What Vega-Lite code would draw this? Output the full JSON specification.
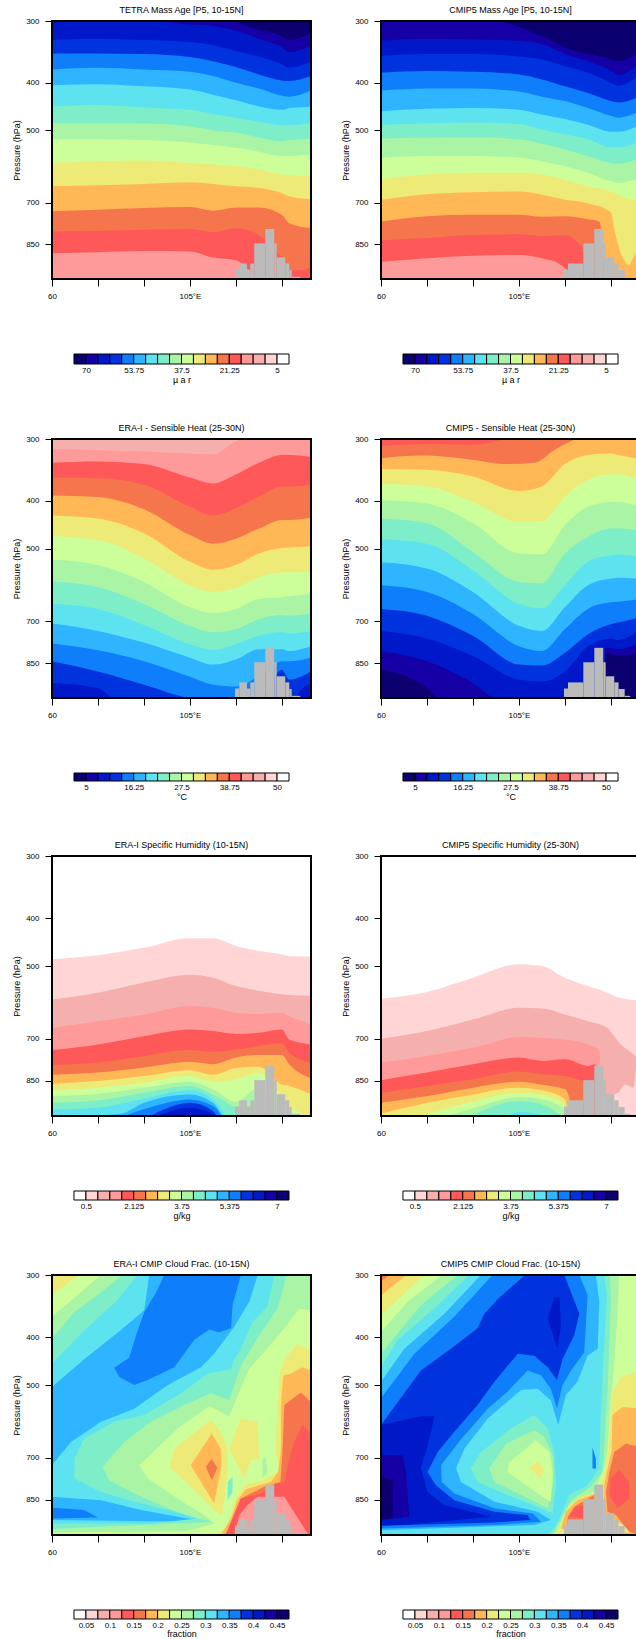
{"$schema":"https://vega.github.io/schema/vega-lite/v6.json","padding":{"left":12,"top":5,"right":0,"bottom":0},"background":"white","config":{"view":{"stroke":null},"font":"Liberation Sans","axis":{"labelFontSize":8,"titleFontSize":9,"titleFontWeight":"normal","grid":false,"domain":false,"tickColor":"black","tickSize":7,"tickWidth":1,"labelColor":"black","titleColor":"black","labelPadding":2,"labelOverlap":false,"labelFlush":false},"title":{"fontSize":9,"fontWeight":"normal","offset":2.5,"color":"black"}},"datasets":{
"tL":[{"x":119.7,"x2":121.1,"p":957},{"x":121.1,"x2":123.6,"p":930},{"x":123.6,"x2":124.7,"p":957},{"x":124.7,"x2":126,"p":930},{"x":126,"x2":129.6,"p":847},{"x":129.6,"x2":132.5,"p":792},{"x":132.5,"x2":133.3,"p":847},{"x":133.3,"x2":136.1,"p":904},{"x":136.1,"x2":137.4,"p":930},{"x":137.4,"x2":138.2,"p":959},{"x":138.2,"x2":141,"p":990}],
"tR":[{"x":119.7,"x2":121,"p":957},{"x":121,"x2":126,"p":930},{"x":126,"x2":129.6,"p":847},{"x":129.6,"x2":132.5,"p":792},{"x":132.5,"x2":133.3,"p":847},{"x":133.3,"x2":136.1,"p":904},{"x":136.1,"x2":137.5,"p":930},{"x":137.5,"x2":139.5,"p":959},{"x":139.5,"x2":141.3,"p":990}],
"cA":[{"i":0,"j":1,"b":0},{"i":1,"j":2,"b":1},{"i":2,"j":3,"b":2},{"i":3,"j":4,"b":3},{"i":4,"j":5,"b":4},{"i":5,"j":6,"b":5},{"i":6,"j":7,"b":6},{"i":7,"j":8,"b":7},{"i":8,"j":9,"b":8},{"i":9,"j":10,"b":9},{"i":10,"j":11,"b":10},{"i":11,"j":12,"b":11},{"i":12,"j":13,"b":12},{"i":13,"j":14,"b":13},{"i":14,"j":15,"b":14},{"i":15,"j":16,"b":15},{"i":16,"j":17,"b":16},{"i":17,"j":18,"b":17}],
"cB":[{"i":0,"j":1,"b":17},{"i":1,"j":2,"b":16},{"i":2,"j":3,"b":15},{"i":3,"j":4,"b":14},{"i":4,"j":5,"b":13},{"i":5,"j":6,"b":12},{"i":6,"j":7,"b":11},{"i":7,"j":8,"b":10},{"i":8,"j":9,"b":9},{"i":9,"j":10,"b":8},{"i":10,"j":11,"b":7},{"i":11,"j":12,"b":6},{"i":12,"j":13,"b":5},{"i":13,"j":14,"b":4},{"i":14,"j":15,"b":3},{"i":15,"j":16,"b":2},{"i":16,"j":17,"b":1},{"i":17,"j":18,"b":0}],
"p1":[{"b":0,"x":60,"p":300},{"b":0,"x":144.5,"p":300},
{"b":1,"x":60,"p":290},{"b":1,"x":105,"p":290},{"b":1,"x":118.4,"p":300},{"b":1,"x":120,"p":302},{"b":1,"x":127.5,"p":312},{"b":1,"x":135,"p":322},{"b":1,"x":137.4,"p":328},{"b":1,"x":144.5,"p":317},
{"b":2,"x":60,"p":299},{"b":2,"x":90,"p":299},{"b":2,"x":105,"p":305},{"b":2,"x":112.5,"p":307},{"b":2,"x":120,"p":314},{"b":2,"x":127.5,"p":326},{"b":2,"x":135,"p":339},{"b":2,"x":137.4,"p":347},{"b":2,"x":144.5,"p":337},
{"b":3,"x":60,"p":328},{"b":3,"x":75,"p":326},{"b":3,"x":90,"p":328},{"b":3,"x":105,"p":331},{"b":3,"x":112.5,"p":336},{"b":3,"x":120,"p":345},{"b":3,"x":127.5,"p":354},{"b":3,"x":135,"p":367},{"b":3,"x":137.4,"p":373},{"b":3,"x":144.5,"p":362},
{"b":4,"x":60,"p":349},{"b":4,"x":75,"p":349},{"b":4,"x":90,"p":350},{"b":4,"x":105,"p":355},{"b":4,"x":112.5,"p":362},{"b":4,"x":120,"p":372},{"b":4,"x":127.5,"p":385},{"b":4,"x":135,"p":396},{"b":4,"x":137.4,"p":397},{"b":4,"x":144.5,"p":388},
{"b":5,"x":60,"p":376},{"b":5,"x":75,"p":373},{"b":5,"x":90,"p":376},{"b":5,"x":105,"p":380},{"b":5,"x":112.5,"p":388},{"b":5,"x":120,"p":400},{"b":5,"x":127.5,"p":411},{"b":5,"x":135,"p":425},{"b":5,"x":137.4,"p":427},{"b":5,"x":144.5,"p":415},
{"b":6,"x":60,"p":405},{"b":6,"x":75,"p":403},{"b":6,"x":90,"p":407},{"b":6,"x":105,"p":413},{"b":6,"x":112.5,"p":423},{"b":6,"x":120,"p":434},{"b":6,"x":127.5,"p":447},{"b":6,"x":135,"p":454},{"b":6,"x":137.4,"p":450},{"b":6,"x":144.5,"p":448},
{"b":7,"x":60,"p":447},{"b":7,"x":75,"p":444},{"b":7,"x":90,"p":449},{"b":7,"x":105,"p":454},{"b":7,"x":112.5,"p":463},{"b":7,"x":120,"p":471},{"b":7,"x":127.5,"p":480},{"b":7,"x":135,"p":488},{"b":7,"x":137.4,"p":488},{"b":7,"x":144.5,"p":483},
{"b":8,"x":60,"p":483},{"b":8,"x":75,"p":483},{"b":8,"x":90,"p":484},{"b":8,"x":105,"p":490},{"b":8,"x":112.5,"p":500},{"b":8,"x":120,"p":505},{"b":8,"x":127.5,"p":517},{"b":8,"x":135,"p":525},{"b":8,"x":137.4,"p":523},{"b":8,"x":144.5,"p":520},
{"b":9,"x":60,"p":521},{"b":9,"x":75,"p":521},{"b":9,"x":90,"p":523},{"b":9,"x":105,"p":529},{"b":9,"x":112.5,"p":535},{"b":9,"x":120,"p":542},{"b":9,"x":127.5,"p":552},{"b":9,"x":135,"p":563},{"b":9,"x":137.4,"p":563},{"b":9,"x":144.5,"p":559},
{"b":10,"x":60,"p":582},{"b":10,"x":75,"p":577},{"b":10,"x":90,"p":575},{"b":10,"x":105,"p":582},{"b":10,"x":112.5,"p":586},{"b":10,"x":120,"p":591},{"b":10,"x":127.5,"p":600},{"b":10,"x":135,"p":614},{"b":10,"x":137.4,"p":616},{"b":10,"x":144.5,"p":619},
{"b":11,"x":60,"p":649},{"b":11,"x":75,"p":646},{"b":11,"x":90,"p":642},{"b":11,"x":105,"p":637},{"b":11,"x":112.5,"p":642},{"b":11,"x":120,"p":649},{"b":11,"x":127.5,"p":654},{"b":11,"x":135,"p":670},{"b":11,"x":137.4,"p":680},{"b":11,"x":144.5,"p":689},
{"b":12,"x":60,"p":729},{"b":12,"x":75,"p":724},{"b":12,"x":90,"p":718},{"b":12,"x":105,"p":715},{"b":12,"x":112.5,"p":727},{"b":12,"x":120,"p":716},{"b":12,"x":127.5,"p":716},{"b":12,"x":135,"p":741},{"b":12,"x":137.4,"p":771},{"b":12,"x":144.5,"p":789},
{"b":13,"x":60,"p":801},{"b":13,"x":75,"p":799},{"b":13,"x":90,"p":795},{"b":13,"x":105,"p":792},{"b":13,"x":112.5,"p":804},{"b":13,"x":120,"p":789},{"b":13,"x":127.5,"p":814},{"b":13,"x":135,"p":908},{"b":13,"x":137.4,"p":959},{"b":13,"x":141,"p":959},{"b":13,"x":144.5,"p":945},
{"b":14,"x":60,"p":887},{"b":14,"x":75,"p":883},{"b":14,"x":90,"p":878},{"b":14,"x":105,"p":880},{"b":14,"x":112.5,"p":905},{"b":14,"x":120,"p":916},{"b":14,"x":123.6,"p":952},{"b":14,"x":127.5,"p":1010}],
"p2":[{"b":0,"x":60,"p":300},{"b":0,"x":144.5,"p":300},
{"b":1,"x":60,"p":292},{"b":1,"x":90,"p":296},{"b":1,"x":105,"p":308},{"b":1,"x":112.5,"p":322},{"b":1,"x":120,"p":339},{"b":1,"x":127.5,"p":350},{"b":1,"x":135,"p":358},{"b":1,"x":137.4,"p":362},{"b":1,"x":144.5,"p":345},
{"b":2,"x":60,"p":329},{"b":2,"x":75,"p":326},{"b":2,"x":90,"p":327},{"b":2,"x":105,"p":329},{"b":2,"x":112.5,"p":334},{"b":2,"x":120,"p":350},{"b":2,"x":127.5,"p":362},{"b":2,"x":135,"p":378},{"b":2,"x":137.4,"p":386},{"b":2,"x":144.5,"p":365},
{"b":3,"x":60,"p":353},{"b":3,"x":75,"p":350},{"b":3,"x":90,"p":350},{"b":3,"x":105,"p":354},{"b":3,"x":112.5,"p":359},{"b":3,"x":120,"p":370},{"b":3,"x":127.5,"p":382},{"b":3,"x":135,"p":400},{"b":3,"x":137.4,"p":406},{"b":3,"x":144.5,"p":385},
{"b":4,"x":60,"p":382},{"b":4,"x":75,"p":379},{"b":4,"x":90,"p":380},{"b":4,"x":105,"p":385},{"b":4,"x":112.5,"p":394},{"b":4,"x":120,"p":407},{"b":4,"x":127.5,"p":420},{"b":4,"x":135,"p":436},{"b":4,"x":137.4,"p":439},{"b":4,"x":144.5,"p":426},
{"b":5,"x":60,"p":415},{"b":5,"x":75,"p":411},{"b":5,"x":90,"p":411},{"b":5,"x":105,"p":417},{"b":5,"x":112.5,"p":427},{"b":5,"x":120,"p":436},{"b":5,"x":127.5,"p":450},{"b":5,"x":135,"p":467},{"b":5,"x":137.4,"p":471},{"b":5,"x":144.5,"p":457},
{"b":6,"x":60,"p":457},{"b":6,"x":75,"p":452},{"b":6,"x":90,"p":450},{"b":6,"x":105,"p":454},{"b":6,"x":112.5,"p":464},{"b":6,"x":120,"p":474},{"b":6,"x":127.5,"p":487},{"b":6,"x":135,"p":503},{"b":6,"x":137.4,"p":503},{"b":6,"x":144.5,"p":487},
{"b":7,"x":60,"p":487},{"b":7,"x":75,"p":484},{"b":7,"x":90,"p":482},{"b":7,"x":105,"p":485},{"b":7,"x":112.5,"p":498},{"b":7,"x":120,"p":509},{"b":7,"x":127.5,"p":521},{"b":7,"x":135,"p":541},{"b":7,"x":137.4,"p":541},{"b":7,"x":144.5,"p":525},
{"b":8,"x":60,"p":519},{"b":8,"x":75,"p":517},{"b":8,"x":90,"p":516},{"b":8,"x":105,"p":521},{"b":8,"x":112.5,"p":532},{"b":8,"x":120,"p":546},{"b":8,"x":127.5,"p":564},{"b":8,"x":135,"p":582},{"b":8,"x":137.4,"p":584},{"b":8,"x":144.5,"p":568},
{"b":9,"x":60,"p":568},{"b":9,"x":75,"p":563},{"b":9,"x":90,"p":563},{"b":9,"x":105,"p":568},{"b":9,"x":112.5,"p":577},{"b":9,"x":120,"p":591},{"b":9,"x":127.5,"p":609},{"b":9,"x":135,"p":634},{"b":9,"x":137.4,"p":639},{"b":9,"x":144.5,"p":624},
{"b":10,"x":60,"p":627},{"b":10,"x":75,"p":614},{"b":10,"x":90,"p":609},{"b":10,"x":105,"p":609},{"b":10,"x":112.5,"p":614},{"b":10,"x":120,"p":629},{"b":10,"x":127.5,"p":649},{"b":10,"x":135,"p":665},{"b":10,"x":137.4,"p":675},{"b":10,"x":144.5,"p":696},
{"b":11,"x":60,"p":691},{"b":11,"x":75,"p":673},{"b":11,"x":90,"p":667},{"b":11,"x":105,"p":665},{"b":11,"x":112.5,"p":675},{"b":11,"x":120,"p":691},{"b":11,"x":127.5,"p":702},{"b":11,"x":135,"p":732},{"b":11,"x":136.1,"p":789},{"b":11,"x":137.7,"p":867},{"b":11,"x":139.4,"p":916},{"b":11,"x":141,"p":937},{"b":11,"x":142.1,"p":909},{"b":11,"x":143.5,"p":881},{"b":11,"x":144.5,"p":867},
{"b":12,"x":60,"p":765},{"b":12,"x":75,"p":746},{"b":12,"x":90,"p":741},{"b":12,"x":105,"p":741},{"b":12,"x":112.5,"p":748},{"b":12,"x":120,"p":746},{"b":12,"x":127.5,"p":757},{"b":12,"x":131.2,"p":765},{"b":12,"x":133,"p":1010},
{"b":13,"x":60,"p":835},{"b":13,"x":75,"p":826},{"b":13,"x":90,"p":814},{"b":13,"x":105,"p":812},{"b":13,"x":112.5,"p":819},{"b":13,"x":120,"p":814},{"b":13,"x":124,"p":841},{"b":13,"x":126,"p":874},{"b":13,"x":127,"p":1010},
{"b":14,"x":60,"p":923},{"b":14,"x":75,"p":908},{"b":14,"x":90,"p":897},{"b":14,"x":105,"p":894},{"b":14,"x":112.5,"p":908},{"b":14,"x":118,"p":930},{"b":14,"x":124,"p":1010}],
"p3":[{"b":15,"x":60,"p":300},{"b":15,"x":144.5,"p":300},
{"b":14,"x":60,"p":314},{"b":14,"x":75,"p":316},{"b":14,"x":90,"p":318},{"b":14,"x":105,"p":321},{"b":14,"x":112.5,"p":322},{"b":14,"x":120,"p":303},{"b":14,"x":127.5,"p":294},{"b":14,"x":144.5,"p":294},
{"b":13,"x":60,"p":335},{"b":13,"x":75,"p":333},{"b":13,"x":90,"p":337},{"b":13,"x":105,"p":359},{"b":13,"x":112.5,"p":369},{"b":13,"x":120,"p":354},{"b":13,"x":127.5,"p":335},{"b":13,"x":135,"p":323},{"b":13,"x":137.4,"p":323},{"b":13,"x":144.5,"p":326},
{"b":12,"x":60,"p":359},{"b":12,"x":75,"p":360},{"b":12,"x":90,"p":371},{"b":12,"x":105,"p":411},{"b":12,"x":112.5,"p":428},{"b":12,"x":120,"p":414},{"b":12,"x":127.5,"p":392},{"b":12,"x":135,"p":374},{"b":12,"x":137.4,"p":374},{"b":12,"x":144.5,"p":371},
{"b":11,"x":60,"p":390},{"b":11,"x":75,"p":393},{"b":11,"x":90,"p":416},{"b":11,"x":105,"p":469},{"b":11,"x":112.5,"p":488},{"b":11,"x":120,"p":477},{"b":11,"x":127.5,"p":455},{"b":11,"x":135,"p":437},{"b":11,"x":137.4,"p":437},{"b":11,"x":144.5,"p":432},
{"b":10,"x":60,"p":428},{"b":10,"x":75,"p":434},{"b":10,"x":90,"p":465},{"b":10,"x":105,"p":531},{"b":10,"x":112.5,"p":551},{"b":10,"x":120,"p":539},{"b":10,"x":127.5,"p":511},{"b":10,"x":135,"p":498},{"b":10,"x":137.4,"p":497},{"b":10,"x":144.5,"p":494},
{"b":9,"x":60,"p":471},{"b":9,"x":75,"p":480},{"b":9,"x":90,"p":523},{"b":9,"x":105,"p":592},{"b":9,"x":112.5,"p":611},{"b":9,"x":120,"p":599},{"b":9,"x":127.5,"p":570},{"b":9,"x":135,"p":558},{"b":9,"x":137.4,"p":558},{"b":9,"x":144.5,"p":556},
{"b":8,"x":60,"p":525},{"b":8,"x":75,"p":539},{"b":8,"x":90,"p":583},{"b":8,"x":105,"p":656},{"b":8,"x":112.5,"p":674},{"b":8,"x":120,"p":661},{"b":8,"x":127.5,"p":631},{"b":8,"x":135,"p":626},{"b":8,"x":137.4,"p":623},{"b":8,"x":144.5,"p":616},
{"b":7,"x":60,"p":582},{"b":7,"x":75,"p":597},{"b":7,"x":90,"p":646},{"b":7,"x":105,"p":715},{"b":7,"x":112.5,"p":737},{"b":7,"x":120,"p":726},{"b":7,"x":127.5,"p":693},{"b":7,"x":135,"p":680},{"b":7,"x":137.4,"p":682},{"b":7,"x":144.5,"p":675},
{"b":6,"x":60,"p":645},{"b":6,"x":75,"p":661},{"b":6,"x":90,"p":712},{"b":6,"x":105,"p":779},{"b":6,"x":112.5,"p":800},{"b":6,"x":120,"p":779},{"b":6,"x":127.5,"p":749},{"b":6,"x":135,"p":737},{"b":6,"x":137.4,"p":741},{"b":6,"x":144.5,"p":733},
{"b":5,"x":60,"p":707},{"b":5,"x":75,"p":732},{"b":5,"x":90,"p":773},{"b":5,"x":105,"p":829},{"b":5,"x":112.5,"p":856},{"b":5,"x":120,"p":836},{"b":5,"x":127.5,"p":797},{"b":5,"x":135,"p":797},{"b":5,"x":137.4,"p":804},{"b":5,"x":144.5,"p":786},
{"b":4,"x":60,"p":776},{"b":4,"x":75,"p":801},{"b":4,"x":90,"p":843},{"b":4,"x":105,"p":906},{"b":4,"x":112.5,"p":940},{"b":4,"x":120,"p":948},{"b":4,"x":127.5,"p":903},{"b":4,"x":135,"p":843},{"b":4,"x":137.4,"p":843},{"b":4,"x":144.5,"p":829},
{"b":3,"x":60,"p":843},{"b":3,"x":75,"p":884},{"b":3,"x":90,"p":940},{"b":3,"x":105,"p":1000},{"b":3,"x":112.5,"p":1010},{"b":3,"x":127.5,"p":1010},{"b":3,"x":135,"p":877},{"b":3,"x":137.4,"p":918},{"b":3,"x":144.5,"p":884},
{"b":2,"x":60,"p":933},{"b":2,"x":75,"p":955},{"b":2,"x":80.9,"p":1005},{"b":2,"x":90,"p":1010},{"b":2,"x":135,"p":1010},{"b":2,"x":139,"p":1005},{"b":2,"x":141.2,"p":964},{"b":2,"x":144.5,"p":933}],
"p4":[{"b":13,"x":60,"p":300},{"b":13,"x":144.5,"p":300},
{"b":12,"x":60,"p":310},{"b":12,"x":75,"p":307},{"b":12,"x":90,"p":308},{"b":12,"x":100.2,"p":300},{"b":12,"x":105,"p":294},{"b":12,"x":144.5,"p":294},
{"b":11,"x":60,"p":328},{"b":11,"x":73,"p":324},{"b":11,"x":89.3,"p":330},{"b":11,"x":100.2,"p":337},{"b":11,"x":110,"p":335},{"b":11,"x":116.5,"p":316},{"b":11,"x":123,"p":301},{"b":11,"x":127.5,"p":294},{"b":11,"x":144.5,"p":294},
{"b":10,"x":60,"p":345},{"b":10,"x":75,"p":346},{"b":10,"x":90,"p":357},{"b":10,"x":105,"p":382},{"b":10,"x":112.5,"p":374},{"b":10,"x":120,"p":337},{"b":10,"x":127.5,"p":323},{"b":10,"x":135,"p":321},{"b":10,"x":137.4,"p":323},{"b":10,"x":144.5,"p":330},
{"b":9,"x":60,"p":370},{"b":9,"x":75,"p":374},{"b":9,"x":90,"p":402},{"b":9,"x":105,"p":441},{"b":9,"x":112.5,"p":439},{"b":9,"x":120,"p":392},{"b":9,"x":127.5,"p":363},{"b":9,"x":135,"p":354},{"b":9,"x":137.4,"p":354},{"b":9,"x":144.5,"p":363},
{"b":8,"x":60,"p":399},{"b":8,"x":75,"p":405},{"b":8,"x":90,"p":444},{"b":8,"x":105,"p":511},{"b":8,"x":112.5,"p":513},{"b":8,"x":120,"p":448},{"b":8,"x":127.5,"p":411},{"b":8,"x":135,"p":402},{"b":8,"x":137.4,"p":402},{"b":8,"x":144.5,"p":411},
{"b":7,"x":60,"p":434},{"b":7,"x":75,"p":444},{"b":7,"x":90,"p":507},{"b":7,"x":105,"p":583},{"b":7,"x":112.5,"p":587},{"b":7,"x":120,"p":511},{"b":7,"x":127.5,"p":473},{"b":7,"x":135,"p":455},{"b":7,"x":137.4,"p":455},{"b":7,"x":144.5,"p":458},
{"b":6,"x":60,"p":478},{"b":6,"x":75,"p":488},{"b":6,"x":90,"p":552},{"b":6,"x":105,"p":646},{"b":6,"x":112.5,"p":659},{"b":6,"x":120,"p":592},{"b":6,"x":127.5,"p":531},{"b":6,"x":135,"p":515},{"b":6,"x":137.4,"p":513},{"b":6,"x":144.5,"p":519},
{"b":5,"x":60,"p":532},{"b":5,"x":75,"p":548},{"b":5,"x":90,"p":611},{"b":5,"x":105,"p":715},{"b":5,"x":112.5,"p":732},{"b":5,"x":120,"p":656},{"b":5,"x":127.5,"p":592},{"b":5,"x":135,"p":574},{"b":5,"x":137.4,"p":572},{"b":5,"x":144.5,"p":574},
{"b":4,"x":60,"p":592},{"b":4,"x":75,"p":611},{"b":4,"x":90,"p":677},{"b":4,"x":105,"p":786},{"b":4,"x":112.5,"p":804},{"b":4,"x":120,"p":726},{"b":4,"x":127.5,"p":661},{"b":4,"x":135,"p":641},{"b":4,"x":137.4,"p":639},{"b":4,"x":144.5,"p":631},
{"b":3,"x":60,"p":661},{"b":3,"x":75,"p":682},{"b":3,"x":90,"p":749},{"b":3,"x":105,"p":856},{"b":3,"x":112.5,"p":860},{"b":3,"x":120,"p":810},{"b":3,"x":127.5,"p":744},{"b":3,"x":135,"p":710},{"b":3,"x":137.4,"p":704},{"b":3,"x":144.5,"p":687},
{"b":2,"x":60,"p":732},{"b":2,"x":75,"p":758},{"b":2,"x":90,"p":823},{"b":2,"x":105,"p":918},{"b":2,"x":112.5,"p":926},{"b":2,"x":120,"p":884},{"b":2,"x":127.5,"p":786},{"b":2,"x":135,"p":758},{"b":2,"x":137.4,"p":764},{"b":2,"x":144.5,"p":726},
{"b":1,"x":60,"p":805},{"b":1,"x":75,"p":843},{"b":1,"x":90,"p":933},{"b":1,"x":98,"p":1005},{"b":1,"x":103.5,"p":1010},{"b":1,"x":132.6,"p":1010},{"b":1,"x":133.4,"p":792},{"b":1,"x":137.4,"p":797},{"b":1,"x":144.5,"p":773},
{"b":0,"x":60,"p":875},{"b":0,"x":75,"p":955},{"b":0,"x":79,"p":1005},{"b":0,"x":83.9,"p":1010},{"b":0,"x":132.6,"p":1010},{"b":0,"x":133.4,"p":810},{"b":0,"x":137.4,"p":823},{"b":0,"x":144.5,"p":810}],
"p5":[{"b":16,"x":60,"p":484},{"b":16,"x":75,"p":475},{"b":16,"x":90,"p":459},{"b":16,"x":105,"p":439},{"b":16,"x":112.5,"p":439},{"b":16,"x":120,"p":455},{"b":16,"x":127.5,"p":466},{"b":16,"x":135,"p":473},{"b":16,"x":137.4,"p":477},{"b":16,"x":144.5,"p":478},
{"b":15,"x":60,"p":583},{"b":15,"x":75,"p":565},{"b":15,"x":90,"p":539},{"b":15,"x":105,"p":520},{"b":15,"x":112.5,"p":527},{"b":15,"x":120,"p":548},{"b":15,"x":127.5,"p":560},{"b":15,"x":135,"p":569},{"b":15,"x":137.4,"p":571},{"b":15,"x":144.5,"p":573},
{"b":14,"x":60,"p":665},{"b":14,"x":75,"p":645},{"b":14,"x":90,"p":625},{"b":14,"x":105,"p":601},{"b":14,"x":112.5,"p":606},{"b":14,"x":120,"p":620},{"b":14,"x":127.5,"p":623},{"b":14,"x":135,"p":620},{"b":14,"x":137.4,"p":630},{"b":14,"x":144.5,"p":653},
{"b":13,"x":60,"p":737},{"b":13,"x":75,"p":718},{"b":13,"x":90,"p":691},{"b":13,"x":105,"p":670},{"b":13,"x":112.5,"p":675},{"b":13,"x":120,"p":684},{"b":13,"x":127.5,"p":680},{"b":13,"x":135,"p":670},{"b":13,"x":137.4,"p":702},{"b":13,"x":144.5,"p":718},
{"b":12,"x":60,"p":789},{"b":12,"x":75,"p":781},{"b":12,"x":90,"p":757},{"b":12,"x":105,"p":737},{"b":12,"x":112.5,"p":743},{"b":12,"x":120,"p":735},{"b":12,"x":127.5,"p":723},{"b":12,"x":135,"p":713},{"b":12,"x":137.4,"p":746},{"b":12,"x":144.5,"p":781},
{"b":11,"x":60,"p":826},{"b":11,"x":75,"p":818},{"b":11,"x":90,"p":799},{"b":11,"x":105,"p":778},{"b":11,"x":112.5,"p":787},{"b":11,"x":120,"p":763},{"b":11,"x":127.5,"p":754},{"b":11,"x":135,"p":754},{"b":11,"x":137.4,"p":787},{"b":11,"x":144.5,"p":840},
{"b":10,"x":60,"p":861},{"b":10,"x":75,"p":850},{"b":10,"x":90,"p":831},{"b":10,"x":105,"p":809},{"b":10,"x":112.5,"p":826},{"b":10,"x":120,"p":801},{"b":10,"x":127.5,"p":796},{"b":10,"x":135,"p":864},{"b":10,"x":137.4,"p":870},{"b":10,"x":144.5,"p":905},
{"b":9,"x":60,"p":888},{"b":9,"x":75,"p":877},{"b":9,"x":90,"p":857},{"b":9,"x":105,"p":831},{"b":9,"x":112.5,"p":853},{"b":9,"x":120,"p":844},{"b":9,"x":127.5,"p":818},{"b":9,"x":135,"p":919},{"b":9,"x":137.4,"p":955},{"b":9,"x":140,"p":977},{"b":9,"x":144.5,"p":1005},
{"b":8,"x":60,"p":912},{"b":8,"x":75,"p":902},{"b":8,"x":90,"p":877},{"b":8,"x":105,"p":853},{"b":8,"x":112.5,"p":884},{"b":8,"x":120,"p":936},{"b":8,"x":127.5,"p":877},{"b":8,"x":135,"p":1010},
{"b":7,"x":60,"p":941},{"b":7,"x":75,"p":931},{"b":7,"x":90,"p":898},{"b":7,"x":105,"p":870},{"b":7,"x":112.5,"p":905},{"b":7,"x":120,"p":962},{"b":7,"x":127.5,"p":1006},
{"b":6,"x":60,"p":970},{"b":6,"x":75,"p":962},{"b":6,"x":90,"p":923},{"b":6,"x":105,"p":888},{"b":6,"x":112.5,"p":926},{"b":6,"x":116.7,"p":1000},
{"b":5,"x":60,"p":1010},{"b":5,"x":71.6,"p":1000},{"b":5,"x":82.5,"p":990},{"b":5,"x":90,"p":941},{"b":5,"x":105,"p":905},{"b":5,"x":112.5,"p":941},{"b":5,"x":115.6,"p":1000},
{"b":4,"x":82.5,"p":1005},{"b":4,"x":90,"p":969},{"b":4,"x":105,"p":926},{"b":4,"x":112.5,"p":955},{"b":4,"x":115.6,"p":1005},
{"b":3,"x":91.3,"p":1005},{"b":3,"x":98,"p":962},{"b":3,"x":105,"p":941},{"b":3,"x":112.5,"p":977},{"b":3,"x":114,"p":1005},
{"b":2,"x":93.5,"p":1005},{"b":2,"x":105,"p":964},{"b":2,"x":112.5,"p":992},{"b":2,"x":113.4,"p":1005}],
"p6":[{"b":16,"x":60,"p":581},{"b":16,"x":75,"p":563},{"b":16,"x":90,"p":527},{"b":16,"x":105,"p":495},{"b":16,"x":112.5,"p":499},{"b":16,"x":120,"p":527},{"b":16,"x":127.5,"p":548},{"b":16,"x":135,"p":569},{"b":16,"x":137.4,"p":578},{"b":16,"x":144.5,"p":586},
{"b":15,"x":60,"p":699},{"b":15,"x":75,"p":675},{"b":15,"x":90,"p":640},{"b":15,"x":105,"p":606},{"b":15,"x":112.5,"p":608},{"b":15,"x":120,"p":625},{"b":15,"x":127.5,"p":645},{"b":15,"x":133.9,"p":665},{"b":15,"x":136.1,"p":691},{"b":15,"x":138.3,"p":718},{"b":15,"x":141,"p":740},{"b":15,"x":143.5,"p":763},{"b":15,"x":144.5,"p":776},
{"s":"r","b":16,"x":135,"p":1000},{"s":"r","b":16,"x":136.1,"p":905},{"s":"r","b":16,"x":137.4,"p":898},{"s":"r","b":16,"x":139.6,"p":864},{"s":"r","b":16,"x":142.3,"p":877},{"s":"r","b":16,"x":143.5,"p":787},{"s":"r","b":16,"x":144.5,"p":776},
{"b":14,"x":60,"p":781},{"b":14,"x":75,"p":757},{"b":14,"x":90,"p":729},{"b":14,"x":105,"p":694},{"b":14,"x":112.5,"p":697},{"b":14,"x":120,"p":702},{"b":14,"x":127.5,"p":718},{"b":14,"x":131.2,"p":735},{"b":14,"x":132,"p":1010},
{"b":13,"x":60,"p":847},{"b":13,"x":75,"p":818},{"b":13,"x":90,"p":787},{"b":13,"x":105,"p":763},{"b":13,"x":112.5,"p":775},{"b":13,"x":120,"p":769},{"b":13,"x":127.5,"p":793},{"b":13,"x":130,"p":787},{"b":13,"x":131,"p":1010},
{"b":12,"x":60,"p":898},{"b":12,"x":75,"p":870},{"b":12,"x":90,"p":844},{"b":12,"x":105,"p":814},{"b":12,"x":112.5,"p":824},{"b":12,"x":120,"p":831},{"b":12,"x":124,"p":844},{"b":12,"x":126,"p":850},{"b":12,"x":127,"p":1010},
{"b":11,"x":60,"p":941},{"b":11,"x":75,"p":912},{"b":11,"x":90,"p":877},{"b":11,"x":105,"p":853},{"b":11,"x":112.5,"p":865},{"b":11,"x":120,"p":884},{"b":11,"x":121.4,"p":919},{"b":11,"x":122.5,"p":1010},
{"b":10,"x":60,"p":989},{"b":10,"x":75,"p":941},{"b":10,"x":90,"p":905},{"b":10,"x":105,"p":877},{"b":10,"x":112.5,"p":888},{"b":10,"x":120,"p":926},{"b":10,"x":121,"p":1010},
{"b":9,"x":73,"p":1000},{"b":9,"x":90,"p":936},{"b":9,"x":105,"p":898},{"b":9,"x":112.5,"p":908},{"b":9,"x":120,"p":948},{"b":9,"x":121,"p":1010},
{"b":8,"x":81.7,"p":1000},{"b":8,"x":90,"p":965},{"b":8,"x":105,"p":916},{"b":8,"x":112.5,"p":926},{"b":8,"x":120,"p":970},{"b":8,"x":121,"p":1010},
{"b":7,"x":90,"p":995},{"b":7,"x":105,"p":933},{"b":7,"x":112.5,"p":948},{"b":7,"x":119,"p":1000},
{"b":6,"x":101.3,"p":1000},{"b":6,"x":105,"p":982},{"b":6,"x":112.5,"p":995},{"b":6,"x":114,"p":1003}],
"p7":[{"s":"a","b":5,"x":60,"p":300},{"s":"a","b":5,"x":144.5,"p":300},{"s":"a","b":5,"x":144.5,"p":1000},{"s":"a","b":5,"x":60,"p":1000},
{"s":"d6","b":6,"x":60,"p":300},{"s":"d6","b":6,"x":91.7,"p":300},{"s":"d6","b":6,"x":90.1,"p":353},{"s":"d6","b":6,"x":82.5,"p":387},{"s":"d6","b":6,"x":70.5,"p":443},{"s":"d6","b":6,"x":60,"p":504},
{"s":"d7","b":7,"x":60,"p":300},{"s":"d7","b":7,"x":87.9,"p":300},{"s":"d7","b":7,"x":80.9,"p":339},{"s":"d7","b":7,"x":70.5,"p":388},{"s":"d7","b":7,"x":60,"p":452},
{"s":"d8","b":8,"x":60,"p":300},{"s":"d8","b":8,"x":83,"p":300},{"s":"d8","b":8,"x":74.9,"p":329},{"s":"d8","b":8,"x":67.3,"p":356},{"s":"d8","b":8,"x":60,"p":402},
{"s":"d9","b":9,"x":60,"p":300},{"s":"d9","b":9,"x":76,"p":300},{"s":"d9","b":9,"x":68.4,"p":329},{"s":"d9","b":9,"x":60,"p":364},
{"s":"d10","b":10,"x":60,"p":300},{"s":"d10","b":10,"x":68.6,"p":300},{"s":"d10","b":10,"x":60,"p":329},
{"s":"t4","b":4,"x":96.6,"p":300},{"s":"t4","b":4,"x":121.6,"p":300},{"s":"t4","b":4,"x":118.9,"p":345},{"s":"t4","b":4,"x":118.4,"p":384},{"s":"t4","b":4,"x":114.6,"p":391},{"s":"t4","b":4,"x":111.3,"p":386},{"s":"t4","b":4,"x":106.4,"p":405},{"s":"t4","b":4,"x":99.9,"p":460},{"s":"t4","b":4,"x":91.2,"p":488},{"s":"t4","b":4,"x":86.8,"p":499},{"s":"t4","b":4,"x":82,"p":481},{"s":"t4","b":4,"x":80.3,"p":461},{"s":"t4","b":4,"x":85.2,"p":440},{"s":"t4","b":4,"x":87.4,"p":397},{"s":"t4","b":4,"x":90.1,"p":356},{"s":"t4","b":4,"x":93.9,"p":326},
{"s":"c6","b":6,"x":127.1,"p":300},{"s":"c6","b":6,"x":124.4,"p":339},{"s":"c6","b":6,"x":119.5,"p":381},{"s":"c6","b":6,"x":112.9,"p":432},{"s":"c6","b":6,"x":108.6,"p":460},{"s":"c6","b":6,"x":97.7,"p":500},{"s":"c6","b":6,"x":86.8,"p":557},{"s":"c6","b":6,"x":76,"p":592},{"s":"c6","b":6,"x":66.2,"p":650},{"s":"c6","b":6,"x":60,"p":723},{"s":"c6","b":6,"x":60,"p":838},{"s":"c6","b":6,"x":76,"p":851},{"s":"c6","b":6,"x":89,"p":891},{"s":"c6","b":6,"x":104.2,"p":926},{"s":"c6","b":6,"x":108.6,"p":933},{"s":"c6","b":6,"x":105.3,"p":940},{"s":"c6","b":6,"x":86.8,"p":937},{"s":"c6","b":6,"x":60,"p":933},{"s":"c6","b":6,"x":60,"p":1000},{"s":"c6","b":6,"x":144.5,"p":1000},{"s":"c6","b":6,"x":144.5,"p":300},
{"s":"l4","b":4,"x":60,"p":881},{"s":"l4","b":4,"x":70.5,"p":891},{"s":"l4","b":4,"x":74.9,"p":922},{"s":"l4","b":4,"x":60,"p":926},
{"s":"c7","b":7,"x":132.5,"p":300},{"s":"c7","b":7,"x":130.3,"p":347},{"s":"c7","b":7,"x":125.4,"p":373},{"s":"c7","b":7,"x":121.6,"p":422},{"s":"c7","b":7,"x":119.5,"p":443},{"s":"c7","b":7,"x":118.4,"p":463},{"s":"c7","b":7,"x":114,"p":470},{"s":"c7","b":7,"x":110.8,"p":474},{"s":"c7","b":7,"x":102.1,"p":519},{"s":"c7","b":7,"x":90.1,"p":574},{"s":"c7","b":7,"x":80.3,"p":592},{"s":"c7","b":7,"x":70.5,"p":640},{"s":"c7","b":7,"x":67.3,"p":703},{"s":"c7","b":7,"x":67.3,"p":770},{"s":"c7","b":7,"x":76,"p":819},{"s":"c7","b":7,"x":86.8,"p":857},{"s":"c7","b":7,"x":97.7,"p":891},{"s":"c7","b":7,"x":107.5,"p":926},{"s":"c7","b":7,"x":92.3,"p":948},{"s":"c7","b":7,"x":60,"p":948},{"s":"c7","b":7,"x":60,"p":1000},{"s":"c7","b":7,"x":144.5,"p":1000},{"s":"c7","b":7,"x":144.5,"p":300},
{"s":"c8","b":8,"x":136.3,"p":300},{"s":"c8","b":8,"x":135.5,"p":319},{"s":"c8","b":8,"x":133.6,"p":350},{"s":"c8","b":8,"x":127.6,"p":397},{"s":"c8","b":8,"x":121.6,"p":457},{"s":"c8","b":8,"x":117.8,"p":536},{"s":"c8","b":8,"x":111.9,"p":519},{"s":"c8","b":8,"x":104.2,"p":544},{"s":"c8","b":8,"x":92.3,"p":592},{"s":"c8","b":8,"x":83.6,"p":650},{"s":"c8","b":8,"x":76.5,"p":729},{"s":"c8","b":8,"x":78.7,"p":776},{"s":"c8","b":8,"x":86.8,"p":825},{"s":"c8","b":8,"x":97.7,"p":884},{"s":"c8","b":8,"x":107.5,"p":926},{"s":"c8","b":8,"x":112.9,"p":940},{"s":"c8","b":8,"x":60,"p":973},{"s":"c8","b":8,"x":60,"p":1000},{"s":"c8","b":8,"x":144.5,"p":1000},{"s":"c8","b":8,"x":144.5,"p":300},
{"s":"c9","b":9,"x":144.5,"p":353},{"s":"c9","b":9,"x":140.7,"p":351},{"s":"c9","b":9,"x":135.8,"p":384},{"s":"c9","b":9,"x":129.2,"p":429},{"s":"c9","b":9,"x":124.4,"p":463},{"s":"c9","b":9,"x":121.1,"p":515},{"s":"c9","b":9,"x":117.8,"p":579},{"s":"c9","b":9,"x":115.1,"p":566},{"s":"c9","b":9,"x":111.3,"p":550},{"s":"c9","b":9,"x":101,"p":611},{"s":"c9","b":9,"x":88.5,"p":724},{"s":"c9","b":9,"x":91.2,"p":770},{"s":"c9","b":9,"x":104.2,"p":870},{"s":"c9","b":9,"x":109.7,"p":912},{"s":"c9","b":9,"x":112.9,"p":948},{"s":"c9","b":9,"x":104.2,"p":982},{"s":"c9","b":9,"x":60,"p":990},{"s":"c9","b":9,"x":60,"p":1000},{"s":"c9","b":9,"x":144.5,"p":1000},
{"s":"v8","b":8,"x":128.7,"p":703},{"s":"v8","b":8,"x":129.8,"p":698},{"s":"v8","b":8,"x":130.3,"p":747},{"s":"v8","b":8,"x":128.7,"p":770},
{"s":"v7","b":7,"x":117.3,"p":782},{"s":"v7","b":7,"x":118.9,"p":764},{"s":"v7","b":7,"x":118.9,"p":819},{"s":"v7","b":7,"x":117.3,"p":851},
{"s":"r10","b":10,"x":144.5,"p":426},{"s":"r10","b":10,"x":140.1,"p":412},{"s":"r10","b":10,"x":135.8,"p":443},{"s":"r10","b":10,"x":134.1,"p":477},{"s":"r10","b":10,"x":133.4,"p":583},{"s":"r10","b":10,"x":133,"p":681},{"s":"r10","b":10,"x":134.1,"p":741},{"s":"r10","b":10,"x":130.3,"p":770},{"s":"r10","b":10,"x":122.7,"p":794},{"s":"r10","b":10,"x":119.5,"p":857},{"s":"r10","b":10,"x":117.3,"p":963},{"s":"r10","b":10,"x":112.9,"p":1000},{"s":"r10","b":10,"x":144.5,"p":1000},
{"s":"l10","b":10,"x":111.9,"p":586},{"s":"l10","b":10,"x":99.9,"p":671},{"s":"l10","b":10,"x":98.3,"p":729},{"s":"l10","b":10,"x":104.2,"p":788},{"s":"l10","b":10,"x":112.9,"p":891},{"s":"l10","b":10,"x":115.6,"p":912},{"s":"l10","b":10,"x":117.3,"p":747},{"s":"l10","b":10,"x":117.3,"p":671},{"s":"l10","b":10,"x":115.1,"p":620},
{"s":"m10","b":10,"x":121.6,"p":583},{"s":"m10","b":10,"x":117.8,"p":671},{"s":"m10","b":10,"x":122.7,"p":770},{"s":"m10","b":10,"x":124.9,"p":708},{"s":"m10","b":10,"x":127.6,"p":703},{"s":"m10","b":10,"x":127.1,"p":592},
{"s":"l11","b":11,"x":112.1,"p":625},{"s":"l11","b":11,"x":105.3,"p":724},{"s":"l11","b":11,"x":112.9,"p":864},{"s":"l11","b":11,"x":115.3,"p":724},{"s":"l11","b":11,"x":115.1,"p":671},
{"s":"l12","b":12,"x":112.1,"p":703},{"s":"l12","b":12,"x":110.2,"p":729},{"s":"l12","b":12,"x":112.1,"p":776},{"s":"l12","b":12,"x":114,"p":733},
{"s":"r11","b":11,"x":144.5,"p":467},{"s":"r11","b":11,"x":141.7,"p":460},{"s":"r11","b":11,"x":137.9,"p":474},{"s":"r11","b":11,"x":135.5,"p":477},{"s":"r11","b":11,"x":134.7,"p":544},{"s":"r11","b":11,"x":134.7,"p":671},{"s":"r11","b":11,"x":133.8,"p":747},{"s":"r11","b":11,"x":131.4,"p":782},{"s":"r11","b":11,"x":123.3,"p":809},{"s":"r11","b":11,"x":120.5,"p":850},{"s":"r11","b":11,"x":118.4,"p":926},{"s":"r11","b":11,"x":115.1,"p":1000},{"s":"r11","b":11,"x":144.5,"p":1000},
{"s":"r12","b":12,"x":144.5,"p":540},{"s":"r12","b":12,"x":141.2,"p":517},{"s":"r12","b":12,"x":135.8,"p":548},{"s":"r12","b":12,"x":135.2,"p":681},{"s":"r12","b":12,"x":134.5,"p":782},{"s":"r12","b":12,"x":129.2,"p":800},{"s":"r12","b":12,"x":122.7,"p":838},{"s":"r12","b":12,"x":119.5,"p":912},{"s":"r12","b":12,"x":117.3,"p":1000},{"s":"r12","b":12,"x":144.5,"p":1000},
{"s":"r13","b":13,"x":144.5,"p":625},{"s":"r13","b":13,"x":141.7,"p":601},{"s":"r13","b":13,"x":139,"p":650},{"s":"r13","b":13,"x":136.9,"p":723},{"s":"r13","b":13,"x":135.8,"p":782},{"s":"r13","b":13,"x":133,"p":788},{"s":"r13","b":13,"x":128.2,"p":825},{"s":"r13","b":13,"x":121.6,"p":844},{"s":"r13","b":13,"x":118.4,"p":940},{"s":"r13","b":13,"x":116.6,"p":1000},{"s":"r13","b":13,"x":144.5,"p":1000},
{"s":"r14","b":14,"x":119.5,"p":1000},{"s":"r14","b":14,"x":121.1,"p":912},{"s":"r14","b":14,"x":123.8,"p":870},{"s":"r14","b":14,"x":127.1,"p":838},{"s":"r14","b":14,"x":135.8,"p":838},{"s":"r14","b":14,"x":138.5,"p":891},{"s":"r14","b":14,"x":143.4,"p":993},{"s":"r14","b":14,"x":143.4,"p":1000}],
"p8":[{"s":"a","b":3,"x":60,"p":300},{"s":"a","b":3,"x":144.5,"p":300},{"s":"a","b":3,"x":144.5,"p":1000},{"s":"a","b":3,"x":60,"p":1000},
{"s":"d4","b":4,"x":60,"p":300},{"s":"d4","b":4,"x":107,"p":300},{"s":"d4","b":4,"x":98.6,"p":333},{"s":"d4","b":4,"x":93.7,"p":359},{"s":"d4","b":4,"x":91.5,"p":384},{"s":"d4","b":4,"x":82.8,"p":422},{"s":"d4","b":4,"x":73,"p":467},{"s":"d4","b":4,"x":60,"p":601},
{"s":"d5","b":5,"x":60,"p":300},{"s":"d5","b":5,"x":96.4,"p":300},{"s":"d5","b":5,"x":83.9,"p":364},{"s":"d5","b":5,"x":70.9,"p":432},{"s":"d5","b":5,"x":60,"p":531},
{"s":"d6","b":6,"x":60,"p":300},{"s":"d6","b":6,"x":92.6,"p":300},{"s":"d6","b":6,"x":80.7,"p":359},{"s":"d6","b":6,"x":67.6,"p":422},{"s":"d6","b":6,"x":60,"p":492},
{"s":"d7","b":7,"x":60,"p":300},{"s":"d7","b":7,"x":88.8,"p":300},{"s":"d7","b":7,"x":77.4,"p":350},{"s":"d7","b":7,"x":65.4,"p":406},{"s":"d7","b":7,"x":60,"p":459},
{"s":"d8","b":8,"x":60,"p":300},{"s":"d8","b":8,"x":85,"p":300},{"s":"d8","b":8,"x":73,"p":345},{"s":"d8","b":8,"x":60,"p":432},
{"s":"d9","b":9,"x":60,"p":300},{"s":"d9","b":9,"x":80.1,"p":300},{"s":"d9","b":9,"x":68.7,"p":339},{"s":"d9","b":9,"x":60,"p":391},
{"s":"d10","b":10,"x":60,"p":300},{"s":"d10","b":10,"x":74.1,"p":300},{"s":"d10","b":10,"x":60,"p":361},
{"s":"d11","b":11,"x":60,"p":300},{"s":"d11","b":11,"x":68.2,"p":300},{"s":"d11","b":11,"x":60,"p":330},
{"s":"d12","b":12,"x":60,"p":300},{"s":"d12","b":12,"x":62.7,"p":300},{"s":"d12","b":12,"x":60,"p":309},
{"s":"k2","b":2,"x":60,"p":601},{"s":"k2","b":2,"x":73,"p":577},{"s":"k2","b":2,"x":77.4,"p":577},{"s":"k2","b":2,"x":75.8,"p":641},{"s":"k2","b":2,"x":73,"p":735},{"s":"k2","b":2,"x":75.2,"p":819},{"s":"k2","b":2,"x":80.7,"p":870},{"s":"k2","b":2,"x":95.9,"p":919},{"s":"k2","b":2,"x":73,"p":948},{"s":"k2","b":2,"x":60,"p":963},
{"s":"k1","b":1,"x":60,"p":691},{"s":"k1","b":1,"x":67.1,"p":691},{"s":"k1","b":1,"x":68.2,"p":747},{"s":"k1","b":1,"x":69.2,"p":919},{"s":"k1","b":1,"x":60,"p":933},
{"s":"k0","b":0,"x":60,"p":764},{"s":"k0","b":0,"x":63.8,"p":776},{"s":"k0","b":0,"x":63.8,"p":926},{"s":"k0","b":0,"x":60,"p":930},
{"s":"v2","b":2,"x":116.5,"p":333},{"s":"v2","b":2,"x":118.2,"p":333},{"s":"v2","b":2,"x":118.7,"p":378},{"s":"v2","b":2,"x":117.6,"p":422},{"s":"v2","b":2,"x":114.4,"p":367},
{"s":"m4","b":4,"x":119.8,"p":300},{"s":"m4","b":4,"x":124.7,"p":359},{"s":"m4","b":4,"x":123,"p":397},{"s":"m4","b":4,"x":119.2,"p":443},{"s":"m4","b":4,"x":117.4,"p":488},{"s":"m4","b":4,"x":114.4,"p":460},{"s":"m4","b":4,"x":110,"p":436},{"s":"m4","b":4,"x":104.6,"p":432},{"s":"m4","b":4,"x":97,"p":492},{"s":"m4","b":4,"x":91.5,"p":548},{"s":"m4","b":4,"x":83.9,"p":620},{"s":"m4","b":4,"x":78.5,"p":681},{"s":"m4","b":4,"x":75.2,"p":747},{"s":"m4","b":4,"x":77.9,"p":794},{"s":"m4","b":4,"x":83.9,"p":851},{"s":"m4","b":4,"x":97,"p":898},{"s":"m4","b":4,"x":107.8,"p":912},{"s":"m4","b":4,"x":108.7,"p":933},{"s":"m4","b":4,"x":97,"p":944},{"s":"m4","b":4,"x":60,"p":958},{"s":"m4","b":4,"x":60,"p":1000},{"s":"m4","b":4,"x":144.5,"p":1000},{"s":"m4","b":4,"x":144.5,"p":300},
{"s":"m5","b":5,"x":124.7,"p":300},{"s":"m5","b":5,"x":127.4,"p":329},{"s":"m5","b":5,"x":126.3,"p":429},{"s":"m5","b":5,"x":122,"p":467},{"s":"m5","b":5,"x":119.2,"p":500},{"s":"m5","b":5,"x":117.4,"p":556},{"s":"m5","b":5,"x":115.4,"p":508},{"s":"m5","b":5,"x":112.2,"p":477},{"s":"m5","b":5,"x":107.8,"p":467},{"s":"m5","b":5,"x":101.3,"p":515},{"s":"m5","b":5,"x":94.8,"p":557},{"s":"m5","b":5,"x":86.1,"p":642},{"s":"m5","b":5,"x":79.6,"p":723},{"s":"m5","b":5,"x":79.8,"p":782},{"s":"m5","b":5,"x":83.9,"p":825},{"s":"m5","b":5,"x":97,"p":884},{"s":"m5","b":5,"x":109.5,"p":905},{"s":"m5","b":5,"x":112.2,"p":940},{"s":"m5","b":5,"x":97,"p":955},{"s":"m5","b":5,"x":60,"p":970},{"s":"m5","b":5,"x":60,"p":1000},{"s":"m5","b":5,"x":144.5,"p":1000},{"s":"m5","b":5,"x":144.5,"p":300},
{"s":"m6","b":6,"x":130.1,"p":300},{"s":"m6","b":6,"x":131.2,"p":339},{"s":"m6","b":6,"x":130.7,"p":422},{"s":"m6","b":6,"x":127.4,"p":436},{"s":"m6","b":6,"x":124.1,"p":492},{"s":"m6","b":6,"x":120.3,"p":523},{"s":"m6","b":6,"x":117.8,"p":601},{"s":"m6","b":6,"x":115.4,"p":536},{"s":"m6","b":6,"x":111.1,"p":508},{"s":"m6","b":6,"x":105.7,"p":511},{"s":"m6","b":6,"x":94.8,"p":583},{"s":"m6","b":6,"x":87.2,"p":671},{"s":"m6","b":6,"x":84.5,"p":735},{"s":"m6","b":6,"x":86.1,"p":782},{"s":"m6","b":6,"x":97,"p":857},{"s":"m6","b":6,"x":111.1,"p":898},{"s":"m6","b":6,"x":115.4,"p":933},{"s":"m6","b":6,"x":110,"p":955},{"s":"m6","b":6,"x":60,"p":978},{"s":"m6","b":6,"x":60,"p":1000},{"s":"m6","b":6,"x":144.5,"p":1000},{"s":"m6","b":6,"x":144.5,"p":300},
{"s":"w4","b":4,"x":129,"p":666},{"s":"w4","b":4,"x":130.1,"p":703},{"s":"w4","b":4,"x":130.1,"p":735},{"s":"w4","b":4,"x":129,"p":735},
{"s":"c7","b":7,"x":110,"p":574},{"s":"c7","b":7,"x":102.4,"p":611},{"s":"c7","b":7,"x":92.6,"p":681},{"s":"c7","b":7,"x":89.3,"p":735},{"s":"c7","b":7,"x":91.5,"p":782},{"s":"c7","b":7,"x":101.3,"p":831},{"s":"c7","b":7,"x":112.2,"p":884},{"s":"c7","b":7,"x":116,"p":905},{"s":"c7","b":7,"x":117.1,"p":794},{"s":"c7","b":7,"x":116.5,"p":681},{"s":"c7","b":7,"x":114.4,"p":611},
{"s":"r7","b":7,"x":132.8,"p":300},{"s":"r7","b":7,"x":133.7,"p":329},{"s":"r7","b":7,"x":132.8,"p":415},{"s":"r7","b":7,"x":131.7,"p":577},{"s":"r7","b":7,"x":131.2,"p":735},{"s":"r7","b":7,"x":127.4,"p":794},{"s":"r7","b":7,"x":121.4,"p":831},{"s":"r7","b":7,"x":118.2,"p":926},{"s":"r7","b":7,"x":116.5,"p":968},{"s":"r7","b":7,"x":114.4,"p":1000},{"s":"r7","b":7,"x":144.5,"p":1000},{"s":"r7","b":7,"x":144.5,"p":300},
{"s":"c8","b":8,"x":110,"p":616},{"s":"c8","b":8,"x":100.8,"p":655},{"s":"c8","b":8,"x":95.3,"p":735},{"s":"c8","b":8,"x":97,"p":782},{"s":"c8","b":8,"x":105.7,"p":831},{"s":"c8","b":8,"x":114.4,"p":884},{"s":"c8","b":8,"x":116.3,"p":782},{"s":"c8","b":8,"x":116,"p":691},{"s":"c8","b":8,"x":113.3,"p":635},
{"s":"r8","b":8,"x":134.7,"p":300},{"s":"r8","b":8,"x":135,"p":339},{"s":"r8","b":8,"x":133.9,"p":515},{"s":"r8","b":8,"x":132.8,"p":671},{"s":"r8","b":8,"x":132.3,"p":747},{"s":"r8","b":8,"x":128.5,"p":800},{"s":"r8","b":8,"x":122,"p":851},{"s":"r8","b":8,"x":118.7,"p":926},{"s":"r8","b":8,"x":116,"p":1000},{"s":"r8","b":8,"x":144.5,"p":1000},{"s":"r8","b":8,"x":144.5,"p":300},
{"s":"c9","b":9,"x":110.5,"p":645},{"s":"c9","b":9,"x":101.9,"p":714},{"s":"c9","b":9,"x":101.3,"p":747},{"s":"c9","b":9,"x":111.1,"p":825},{"s":"c9","b":9,"x":115.4,"p":857},{"s":"c9","b":9,"x":116,"p":747},{"s":"c9","b":9,"x":114.9,"p":681},
{"s":"r9","b":9,"x":137.7,"p":300},{"s":"r9","b":9,"x":137.2,"p":356},{"s":"r9","b":9,"x":136.1,"p":449},{"s":"r9","b":9,"x":134.5,"p":583},{"s":"r9","b":9,"x":133.9,"p":681},{"s":"r9","b":9,"x":132.8,"p":735},{"s":"r9","b":9,"x":129.6,"p":819},{"s":"r9","b":9,"x":123,"p":857},{"s":"r9","b":9,"x":119.8,"p":912},{"s":"r9","b":9,"x":117.1,"p":1000},{"s":"r9","b":9,"x":144.5,"p":1000},{"s":"r9","b":9,"x":144.5,"p":300},
{"s":"c10","b":10,"x":111.1,"p":710},{"s":"c10","b":10,"x":108.4,"p":733},{"s":"c10","b":10,"x":112.2,"p":772},{"s":"c10","b":10,"x":113,"p":735},
{"s":"r10","b":10,"x":144.5,"p":467},{"s":"r10","b":10,"x":138.3,"p":481},{"s":"r10","b":10,"x":135.5,"p":515},{"s":"r10","b":10,"x":135,"p":561},{"s":"r10","b":10,"x":134.1,"p":681},{"s":"r10","b":10,"x":132.8,"p":747},{"s":"r10","b":10,"x":130.7,"p":819},{"s":"r10","b":10,"x":125.2,"p":838},{"s":"r10","b":10,"x":121.4,"p":870},{"s":"r10","b":10,"x":118.7,"p":955},{"s":"r10","b":10,"x":116.5,"p":1000},{"s":"r10","b":10,"x":144.5,"p":1000},
{"s":"r11","b":11,"x":144.5,"p":557},{"s":"r11","b":11,"x":138.8,"p":553},{"s":"r11","b":11,"x":135.5,"p":574},{"s":"r11","b":11,"x":135.2,"p":681},{"s":"r11","b":11,"x":133.9,"p":735},{"s":"r11","b":11,"x":132.8,"p":794},{"s":"r11","b":11,"x":132.8,"p":898},{"s":"r11","b":11,"x":140.4,"p":970},{"s":"r11","b":11,"x":141.5,"p":1000},{"s":"r11","b":11,"x":144.5,"p":1000},
{"s":"l11","b":11,"x":118.7,"p":970},{"s":"l11","b":11,"x":120.3,"p":898},{"s":"l11","b":11,"x":124.1,"p":851},{"s":"l11","b":11,"x":130.1,"p":825},{"s":"l11","b":11,"x":130.1,"p":1000},
{"s":"r12","b":12,"x":144.5,"p":665},{"s":"r12","b":12,"x":139.9,"p":655},{"s":"r12","b":12,"x":136.1,"p":681},{"s":"r12","b":12,"x":134.5,"p":747},{"s":"r12","b":12,"x":133.4,"p":819},{"s":"r12","b":12,"x":133.9,"p":898},{"s":"r12","b":12,"x":136.6,"p":912},{"s":"r12","b":12,"x":141,"p":985},{"s":"r12","b":12,"x":144.5,"p":1000},
{"s":"l12","b":12,"x":120.9,"p":919},{"s":"l12","b":12,"x":123,"p":877},{"s":"l12","b":12,"x":129.6,"p":831},{"s":"l12","b":12,"x":129.6,"p":1000},{"s":"l12","b":12,"x":120.9,"p":1000},
{"s":"r13","b":13,"x":137.7,"p":741},{"s":"r13","b":13,"x":135,"p":770},{"s":"r13","b":13,"x":134.5,"p":831},{"s":"r13","b":13,"x":137.2,"p":884},{"s":"r13","b":13,"x":141,"p":844},{"s":"r13","b":13,"x":141,"p":782},
{"s":"l13","b":13,"x":121.4,"p":919},{"s":"l13","b":13,"x":123.6,"p":877},{"s":"l13","b":13,"x":126.3,"p":870},{"s":"l13","b":13,"x":126.3,"p":926}]
},
"columns":2,"spacing":{"row":75,"column":70},"bounds":"flush",
"concat":[
{"title":"TETRA Mass Age [P5, 10-15N]","width":259,"height":258,"layer":[{"data":{"name":"p1"},"mark":{"type":"area","clip":true,"interpolate":"monotone"},"encoding":{"x":{"field":"x","type":"quantitative","scale":{"domain":[60,144.5],"nice":false,"zero":false},"axis":{"values":[60,75,90,105,120,135],"labelExpr":"datum.value==60?'60':datum.value==105?'105°E':''","title":null,"labelPadding":6}},"y":{"field":"p","type":"quantitative","scale":{"type":"log","domain":[300,1000],"reverse":true,"nice":false},"axis":{"values":[300,400,500,700,850],"format":"d","title":"Pressure (hPa)","titlePadding":4,"labelPadding":6}},"y2":{"datum":1000},"color":{"field":"b","type":"ordinal","scale":{"domain":[0,1,2,3,4,5,6,7,8,9,10,11,12,13,14,15,16,17],"range":["#0a0070","#1400a5","#0018c8","#0033dd","#0e7efa","#2fb4ff","#5de3f0","#7deec8","#aaf5a5","#ccff99","#eeea78","#ffb855","#f5754c","#ff5858","#ff9a9a","#f5b0ae","#ffd5d5","#ffffff"]},"legend":null},"detail":{"field":"s"}}},{"data":{"name":"tL"},"mark":{"type":"rect","color":"#bbbbbb","clip":true},"encoding":{"x":{"field":"x","type":"quantitative"},"x2":{"field":"x2"},"y":{"field":"p","type":"quantitative"},"y2":{"datum":1000}}},{"data":{"values":[{}]},"mark":{"type":"rect","filled":false,"stroke":"black","strokeWidth":2},"encoding":{"x":{"datum":60},"x2":{"datum":144.5},"y":{"datum":300},"y2":{"datum":1000}}}]},
{"title":"CMIP5 Mass Age [P5, 10-15N]","width":259,"height":258,"layer":[{"data":{"name":"p2"},"mark":{"type":"area","clip":true,"interpolate":"monotone"},"encoding":{"x":{"field":"x","type":"quantitative","scale":{"domain":[60,144.5],"nice":false,"zero":false},"axis":{"values":[60,75,90,105,120,135],"labelExpr":"datum.value==60?'60':datum.value==105?'105°E':''","title":null,"labelPadding":6}},"y":{"field":"p","type":"quantitative","scale":{"type":"log","domain":[300,1000],"reverse":true,"nice":false},"axis":{"values":[300,400,500,700,850],"format":"d","title":"Pressure (hPa)","titlePadding":4,"labelPadding":6}},"y2":{"datum":1000},"color":{"field":"b","type":"ordinal","scale":{"domain":[0,1,2,3,4,5,6,7,8,9,10,11,12,13,14,15,16,17],"range":["#0a0070","#1400a5","#0018c8","#0033dd","#0e7efa","#2fb4ff","#5de3f0","#7deec8","#aaf5a5","#ccff99","#eeea78","#ffb855","#f5754c","#ff5858","#ff9a9a","#f5b0ae","#ffd5d5","#ffffff"]},"legend":null},"detail":{"field":"s"}}},{"data":{"name":"tR"},"mark":{"type":"rect","color":"#bbbbbb","clip":true},"encoding":{"x":{"field":"x","type":"quantitative"},"x2":{"field":"x2"},"y":{"field":"p","type":"quantitative"},"y2":{"datum":1000}}},{"data":{"values":[{}]},"mark":{"type":"rect","filled":false,"stroke":"black","strokeWidth":2},"encoding":{"x":{"datum":60},"x2":{"datum":144.5},"y":{"datum":300},"y2":{"datum":1000}}}]},
{"width":259,"height":10,"data":{"name":"cA"},"mark":{"type":"rect","stroke":"black","strokeWidth":1},"encoding":{"x":{"field":"i","type":"quantitative","scale":{"domain":[-1.84,19.84],"nice":false,"zero":false},"axis":{"values":[1,5,9,13,17],"labelExpr":"{'1':'70','5':'53.75','9':'37.5','13':'21.25','17':'5'}[datum.value]","title":"µ a r","ticks":false,"titlePadding":1}},"x2":{"field":"j"},"color":{"field":"b","type":"ordinal","scale":{"domain":[0,1,2,3,4,5,6,7,8,9,10,11,12,13,14,15,16,17],"range":["#0a0070","#1400a5","#0018c8","#0033dd","#0e7efa","#2fb4ff","#5de3f0","#7deec8","#aaf5a5","#ccff99","#eeea78","#ffb855","#f5754c","#ff5858","#ff9a9a","#f5b0ae","#ffd5d5","#ffffff"]},"legend":null}}},
{"width":259,"height":10,"data":{"name":"cA"},"mark":{"type":"rect","stroke":"black","strokeWidth":1},"encoding":{"x":{"field":"i","type":"quantitative","scale":{"domain":[-1.84,19.84],"nice":false,"zero":false},"axis":{"values":[1,5,9,13,17],"labelExpr":"{'1':'70','5':'53.75','9':'37.5','13':'21.25','17':'5'}[datum.value]","title":"µ a r","ticks":false,"titlePadding":1}},"x2":{"field":"j"},"color":{"field":"b","type":"ordinal","scale":{"domain":[0,1,2,3,4,5,6,7,8,9,10,11,12,13,14,15,16,17],"range":["#0a0070","#1400a5","#0018c8","#0033dd","#0e7efa","#2fb4ff","#5de3f0","#7deec8","#aaf5a5","#ccff99","#eeea78","#ffb855","#f5754c","#ff5858","#ff9a9a","#f5b0ae","#ffd5d5","#ffffff"]},"legend":null}}},
{"title":"ERA-I - Sensible Heat (25-30N)","width":259,"height":259,"layer":[{"data":{"name":"p3"},"mark":{"type":"area","clip":true,"interpolate":"monotone"},"encoding":{"x":{"field":"x","type":"quantitative","scale":{"domain":[60,144.5],"nice":false,"zero":false},"axis":{"values":[60,75,90,105,120,135],"labelExpr":"datum.value==60?'60':datum.value==105?'105°E':''","title":null,"labelPadding":6}},"y":{"field":"p","type":"quantitative","scale":{"type":"log","domain":[300,1000],"reverse":true,"nice":false},"axis":{"values":[300,400,500,700,850],"format":"d","title":"Pressure (hPa)","titlePadding":4,"labelPadding":6}},"y2":{"datum":1000},"color":{"field":"b","type":"ordinal","scale":{"domain":[0,1,2,3,4,5,6,7,8,9,10,11,12,13,14,15,16,17],"range":["#0a0070","#1400a5","#0018c8","#0033dd","#0e7efa","#2fb4ff","#5de3f0","#7deec8","#aaf5a5","#ccff99","#eeea78","#ffb855","#f5754c","#ff5858","#ff9a9a","#f5b0ae","#ffd5d5","#ffffff"]},"legend":null},"detail":{"field":"s"}}},{"data":{"name":"tL"},"mark":{"type":"rect","color":"#bbbbbb","clip":true},"encoding":{"x":{"field":"x","type":"quantitative"},"x2":{"field":"x2"},"y":{"field":"p","type":"quantitative"},"y2":{"datum":1000}}},{"data":{"values":[{}]},"mark":{"type":"rect","filled":false,"stroke":"black","strokeWidth":2},"encoding":{"x":{"datum":60},"x2":{"datum":144.5},"y":{"datum":300},"y2":{"datum":1000}}}]},
{"title":"CMIP5 - Sensible Heat (25-30N)","width":259,"height":259,"layer":[{"data":{"name":"p4"},"mark":{"type":"area","clip":true,"interpolate":"monotone"},"encoding":{"x":{"field":"x","type":"quantitative","scale":{"domain":[60,144.5],"nice":false,"zero":false},"axis":{"values":[60,75,90,105,120,135],"labelExpr":"datum.value==60?'60':datum.value==105?'105°E':''","title":null,"labelPadding":6}},"y":{"field":"p","type":"quantitative","scale":{"type":"log","domain":[300,1000],"reverse":true,"nice":false},"axis":{"values":[300,400,500,700,850],"format":"d","title":"Pressure (hPa)","titlePadding":4,"labelPadding":6}},"y2":{"datum":1000},"color":{"field":"b","type":"ordinal","scale":{"domain":[0,1,2,3,4,5,6,7,8,9,10,11,12,13,14,15,16,17],"range":["#0a0070","#1400a5","#0018c8","#0033dd","#0e7efa","#2fb4ff","#5de3f0","#7deec8","#aaf5a5","#ccff99","#eeea78","#ffb855","#f5754c","#ff5858","#ff9a9a","#f5b0ae","#ffd5d5","#ffffff"]},"legend":null},"detail":{"field":"s"}}},{"data":{"name":"tR"},"mark":{"type":"rect","color":"#bbbbbb","clip":true},"encoding":{"x":{"field":"x","type":"quantitative"},"x2":{"field":"x2"},"y":{"field":"p","type":"quantitative"},"y2":{"datum":1000}}},{"data":{"values":[{}]},"mark":{"type":"rect","filled":false,"stroke":"black","strokeWidth":2},"encoding":{"x":{"datum":60},"x2":{"datum":144.5},"y":{"datum":300},"y2":{"datum":1000}}}]},
{"width":259,"height":8,"data":{"name":"cA"},"mark":{"type":"rect","stroke":"black","strokeWidth":1},"encoding":{"x":{"field":"i","type":"quantitative","scale":{"domain":[-1.84,19.84],"nice":false,"zero":false},"axis":{"values":[1,5,9,13,17],"labelExpr":"{'1':'5','5':'16.25','9':'27.5','13':'38.75','17':'50'}[datum.value]","title":"°C","ticks":false,"titlePadding":1}},"x2":{"field":"j"},"color":{"field":"b","type":"ordinal","scale":{"domain":[0,1,2,3,4,5,6,7,8,9,10,11,12,13,14,15,16,17],"range":["#0a0070","#1400a5","#0018c8","#0033dd","#0e7efa","#2fb4ff","#5de3f0","#7deec8","#aaf5a5","#ccff99","#eeea78","#ffb855","#f5754c","#ff5858","#ff9a9a","#f5b0ae","#ffd5d5","#ffffff"]},"legend":null}}},
{"width":259,"height":8,"data":{"name":"cA"},"mark":{"type":"rect","stroke":"black","strokeWidth":1},"encoding":{"x":{"field":"i","type":"quantitative","scale":{"domain":[-1.84,19.84],"nice":false,"zero":false},"axis":{"values":[1,5,9,13,17],"labelExpr":"{'1':'5','5':'16.25','9':'27.5','13':'38.75','17':'50'}[datum.value]","title":"°C","ticks":false,"titlePadding":1}},"x2":{"field":"j"},"color":{"field":"b","type":"ordinal","scale":{"domain":[0,1,2,3,4,5,6,7,8,9,10,11,12,13,14,15,16,17],"range":["#0a0070","#1400a5","#0018c8","#0033dd","#0e7efa","#2fb4ff","#5de3f0","#7deec8","#aaf5a5","#ccff99","#eeea78","#ffb855","#f5754c","#ff5858","#ff9a9a","#f5b0ae","#ffd5d5","#ffffff"]},"legend":null}}},
{"title":"ERA-I Specific Humidity (10-15N)","width":259,"height":260,"layer":[{"data":{"name":"p5"},"mark":{"type":"area","clip":true,"interpolate":"monotone"},"encoding":{"x":{"field":"x","type":"quantitative","scale":{"domain":[60,144.5],"nice":false,"zero":false},"axis":{"values":[60,75,90,105,120,135],"labelExpr":"datum.value==60?'60':datum.value==105?'105°E':''","title":null,"labelPadding":6}},"y":{"field":"p","type":"quantitative","scale":{"type":"log","domain":[300,1000],"reverse":true,"nice":false},"axis":{"values":[300,400,500,700,850],"format":"d","title":"Pressure (hPa)","titlePadding":4,"labelPadding":6}},"y2":{"datum":1000},"color":{"field":"b","type":"ordinal","scale":{"domain":[0,1,2,3,4,5,6,7,8,9,10,11,12,13,14,15,16,17],"range":["#0a0070","#1400a5","#0018c8","#0033dd","#0e7efa","#2fb4ff","#5de3f0","#7deec8","#aaf5a5","#ccff99","#eeea78","#ffb855","#f5754c","#ff5858","#ff9a9a","#f5b0ae","#ffd5d5","#ffffff"]},"legend":null},"detail":{"field":"s"}}},{"data":{"name":"tL"},"mark":{"type":"rect","color":"#bbbbbb","clip":true},"encoding":{"x":{"field":"x","type":"quantitative"},"x2":{"field":"x2"},"y":{"field":"p","type":"quantitative"},"y2":{"datum":1000}}},{"data":{"values":[{}]},"mark":{"type":"rect","filled":false,"stroke":"black","strokeWidth":2},"encoding":{"x":{"datum":60},"x2":{"datum":144.5},"y":{"datum":300},"y2":{"datum":1000}}}]},
{"title":"CMIP5 Specific Humidity (25-30N)","width":259,"height":260,"layer":[{"data":{"name":"p6"},"mark":{"type":"area","clip":true,"interpolate":"monotone"},"encoding":{"x":{"field":"x","type":"quantitative","scale":{"domain":[60,144.5],"nice":false,"zero":false},"axis":{"values":[60,75,90,105,120,135],"labelExpr":"datum.value==60?'60':datum.value==105?'105°E':''","title":null,"labelPadding":6}},"y":{"field":"p","type":"quantitative","scale":{"type":"log","domain":[300,1000],"reverse":true,"nice":false},"axis":{"values":[300,400,500,700,850],"format":"d","title":"Pressure (hPa)","titlePadding":4,"labelPadding":6}},"y2":{"datum":1000},"color":{"field":"b","type":"ordinal","scale":{"domain":[0,1,2,3,4,5,6,7,8,9,10,11,12,13,14,15,16,17],"range":["#0a0070","#1400a5","#0018c8","#0033dd","#0e7efa","#2fb4ff","#5de3f0","#7deec8","#aaf5a5","#ccff99","#eeea78","#ffb855","#f5754c","#ff5858","#ff9a9a","#f5b0ae","#ffd5d5","#ffffff"]},"legend":null},"detail":{"field":"s"}}},{"data":{"name":"tR"},"mark":{"type":"rect","color":"#bbbbbb","clip":true},"encoding":{"x":{"field":"x","type":"quantitative"},"x2":{"field":"x2"},"y":{"field":"p","type":"quantitative"},"y2":{"datum":1000}}},{"data":{"values":[{}]},"mark":{"type":"rect","filled":false,"stroke":"black","strokeWidth":2},"encoding":{"x":{"datum":60},"x2":{"datum":144.5},"y":{"datum":300},"y2":{"datum":1000}}}]},
{"width":259,"height":9,"data":{"name":"cB"},"mark":{"type":"rect","stroke":"black","strokeWidth":1},"encoding":{"x":{"field":"i","type":"quantitative","scale":{"domain":[-1.84,19.84],"nice":false,"zero":false},"axis":{"values":[1,5,9,13,17],"labelExpr":"{'1':'0.5','5':'2.125','9':'3.75','13':'5.375','17':'7'}[datum.value]","title":"g/kg","ticks":false,"titlePadding":1}},"x2":{"field":"j"},"color":{"field":"b","type":"ordinal","scale":{"domain":[0,1,2,3,4,5,6,7,8,9,10,11,12,13,14,15,16,17],"range":["#0a0070","#1400a5","#0018c8","#0033dd","#0e7efa","#2fb4ff","#5de3f0","#7deec8","#aaf5a5","#ccff99","#eeea78","#ffb855","#f5754c","#ff5858","#ff9a9a","#f5b0ae","#ffd5d5","#ffffff"]},"legend":null}}},
{"width":259,"height":9,"data":{"name":"cB"},"mark":{"type":"rect","stroke":"black","strokeWidth":1},"encoding":{"x":{"field":"i","type":"quantitative","scale":{"domain":[-1.84,19.84],"nice":false,"zero":false},"axis":{"values":[1,5,9,13,17],"labelExpr":"{'1':'0.5','5':'2.125','9':'3.75','13':'5.375','17':'7'}[datum.value]","title":"g/kg","ticks":false,"titlePadding":1}},"x2":{"field":"j"},"color":{"field":"b","type":"ordinal","scale":{"domain":[0,1,2,3,4,5,6,7,8,9,10,11,12,13,14,15,16,17],"range":["#0a0070","#1400a5","#0018c8","#0033dd","#0e7efa","#2fb4ff","#5de3f0","#7deec8","#aaf5a5","#ccff99","#eeea78","#ffb855","#f5754c","#ff5858","#ff9a9a","#f5b0ae","#ffd5d5","#ffffff"]},"legend":null}}},
{"title":"ERA-I CMIP Cloud Frac. (10-15N)","width":259,"height":260,"layer":[{"data":{"name":"p7"},"mark":{"type":"line","filled":true,"clip":true},"encoding":{"x":{"field":"x","type":"quantitative","scale":{"domain":[60,144.5],"nice":false,"zero":false},"axis":{"values":[60,75,90,105,120,135],"labelExpr":"datum.value==60?'60':datum.value==105?'105°E':''","title":null,"labelPadding":6}},"y":{"field":"p","type":"quantitative","scale":{"type":"log","domain":[300,1000],"reverse":true,"nice":false},"axis":{"values":[300,400,500,700,850],"format":"d","title":"Pressure (hPa)","titlePadding":4,"labelPadding":6}},"color":{"field":"b","type":"ordinal","scale":{"domain":[0,1,2,3,4,5,6,7,8,9,10,11,12,13,14,15,16,17],"range":["#0a0070","#1400a5","#0018c8","#0033dd","#0e7efa","#2fb4ff","#5de3f0","#7deec8","#aaf5a5","#ccff99","#eeea78","#ffb855","#f5754c","#ff5858","#ff9a9a","#f5b0ae","#ffd5d5","#ffffff"]},"legend":null},"detail":{"field":"s"},"order":{"value":null}}},{"data":{"name":"tL"},"mark":{"type":"rect","color":"#bbbbbb","clip":true},"encoding":{"x":{"field":"x","type":"quantitative"},"x2":{"field":"x2"},"y":{"field":"p","type":"quantitative"},"y2":{"datum":1000}}},{"data":{"values":[{}]},"mark":{"type":"rect","filled":false,"stroke":"black","strokeWidth":2},"encoding":{"x":{"datum":60},"x2":{"datum":144.5},"y":{"datum":300},"y2":{"datum":1000}}}]},
{"title":"CMIP5 CMIP Cloud Frac. (10-15N)","width":259,"height":260,"layer":[{"data":{"name":"p8"},"mark":{"type":"line","filled":true,"clip":true},"encoding":{"x":{"field":"x","type":"quantitative","scale":{"domain":[60,144.5],"nice":false,"zero":false},"axis":{"values":[60,75,90,105,120,135],"labelExpr":"datum.value==60?'60':datum.value==105?'105°E':''","title":null,"labelPadding":6}},"y":{"field":"p","type":"quantitative","scale":{"type":"log","domain":[300,1000],"reverse":true,"nice":false},"axis":{"values":[300,400,500,700,850],"format":"d","title":"Pressure (hPa)","titlePadding":4,"labelPadding":6}},"color":{"field":"b","type":"ordinal","scale":{"domain":[0,1,2,3,4,5,6,7,8,9,10,11,12,13,14,15,16,17],"range":["#0a0070","#1400a5","#0018c8","#0033dd","#0e7efa","#2fb4ff","#5de3f0","#7deec8","#aaf5a5","#ccff99","#eeea78","#ffb855","#f5754c","#ff5858","#ff9a9a","#f5b0ae","#ffd5d5","#ffffff"]},"legend":null},"detail":{"field":"s"},"order":{"value":null}}},{"data":{"name":"tR"},"mark":{"type":"rect","color":"#bbbbbb","clip":true},"encoding":{"x":{"field":"x","type":"quantitative"},"x2":{"field":"x2"},"y":{"field":"p","type":"quantitative"},"y2":{"datum":1000}}},{"data":{"values":[{}]},"mark":{"type":"rect","filled":false,"stroke":"black","strokeWidth":2},"encoding":{"x":{"datum":60},"x2":{"datum":144.5},"y":{"datum":300},"y2":{"datum":1000}}}]},
{"width":259,"height":9,"data":{"name":"cB"},"mark":{"type":"rect","stroke":"black","strokeWidth":1},"encoding":{"x":{"field":"i","type":"quantitative","scale":{"domain":[-1.84,19.84],"nice":false,"zero":false},"axis":{"values":[1,3,5,7,9,11,13,15,17],"labelExpr":"{'1':'0.05','3':'0.1','5':'0.15','7':'0.2','9':'0.25','11':'0.3','13':'0.35','15':'0.4','17':'0.45'}[datum.value]","title":"fraction","ticks":false,"titlePadding":0}},"x2":{"field":"j"},"color":{"field":"b","type":"ordinal","scale":{"domain":[0,1,2,3,4,5,6,7,8,9,10,11,12,13,14,15,16,17],"range":["#0a0070","#1400a5","#0018c8","#0033dd","#0e7efa","#2fb4ff","#5de3f0","#7deec8","#aaf5a5","#ccff99","#eeea78","#ffb855","#f5754c","#ff5858","#ff9a9a","#f5b0ae","#ffd5d5","#ffffff"]},"legend":null}}},
{"width":259,"height":9,"data":{"name":"cB"},"mark":{"type":"rect","stroke":"black","strokeWidth":1},"encoding":{"x":{"field":"i","type":"quantitative","scale":{"domain":[-1.84,19.84],"nice":false,"zero":false},"axis":{"values":[1,3,5,7,9,11,13,15,17],"labelExpr":"{'1':'0.05','3':'0.1','5':'0.15','7':'0.2','9':'0.25','11':'0.3','13':'0.35','15':'0.4','17':'0.45'}[datum.value]","title":"fraction","ticks":false,"titlePadding":0}},"x2":{"field":"j"},"color":{"field":"b","type":"ordinal","scale":{"domain":[0,1,2,3,4,5,6,7,8,9,10,11,12,13,14,15,16,17],"range":["#0a0070","#1400a5","#0018c8","#0033dd","#0e7efa","#2fb4ff","#5de3f0","#7deec8","#aaf5a5","#ccff99","#eeea78","#ffb855","#f5754c","#ff5858","#ff9a9a","#f5b0ae","#ffd5d5","#ffffff"]},"legend":null}}}
]}
